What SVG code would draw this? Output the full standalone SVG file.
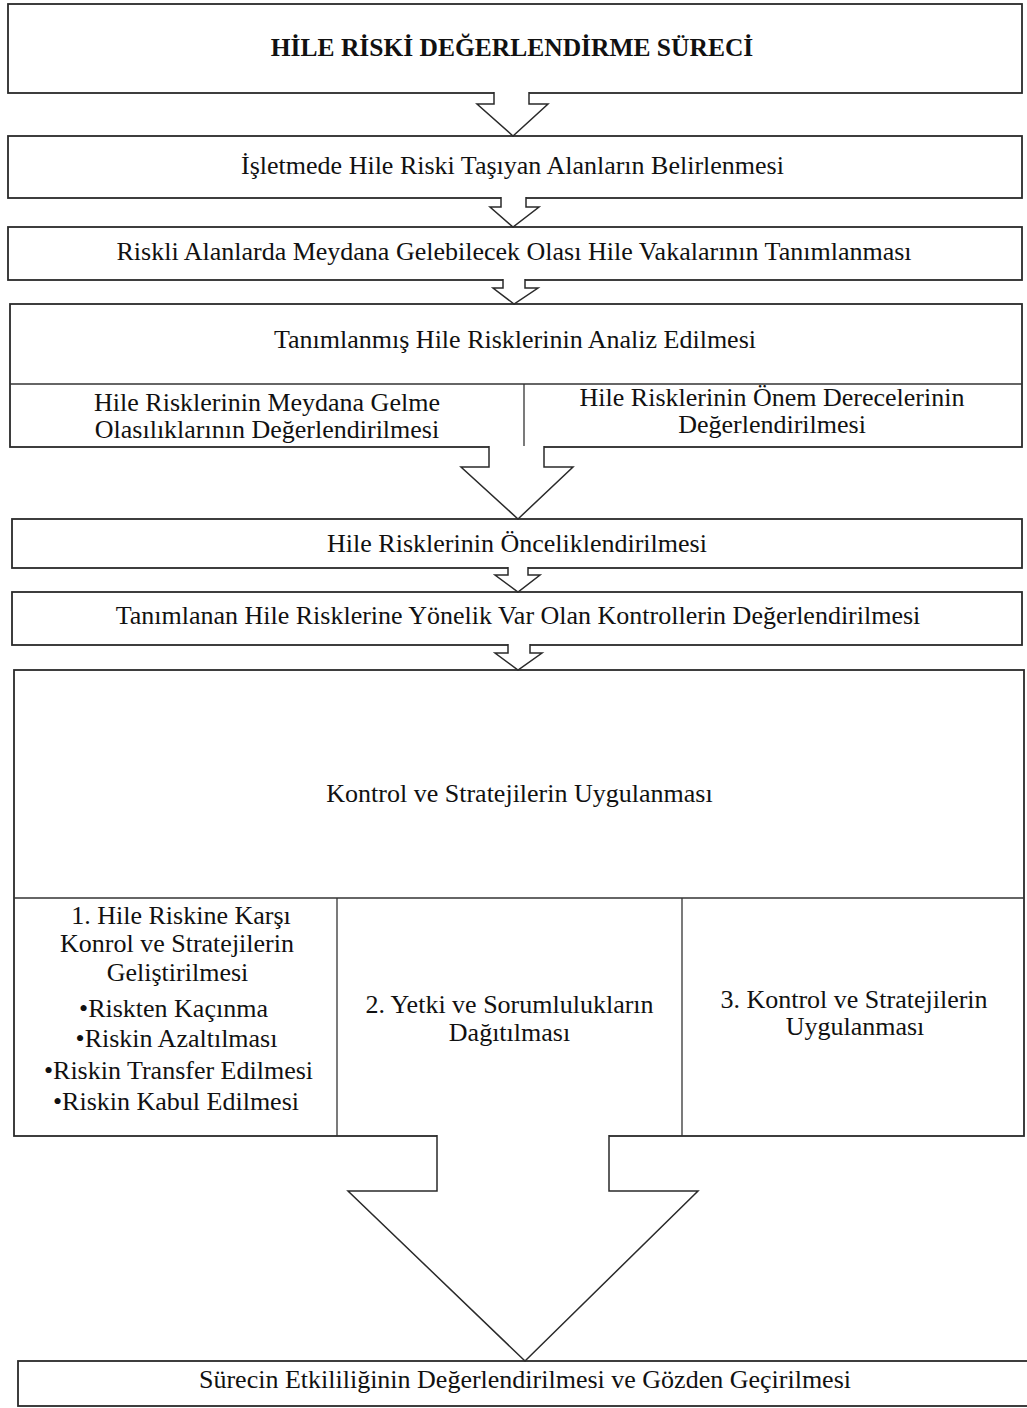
<svg xmlns="http://www.w3.org/2000/svg" width="1027" height="1408" viewBox="0 0 1027 1408">
<style>
.box{fill:#fff;stroke:#2a2a2a;stroke-width:1.8}
.div{fill:none;stroke:#333;stroke-width:1.3}
.arrow{fill:#fff;stroke:#2a2a2a;stroke-width:1.5;stroke-linejoin:miter}
text{font-family:"Liberation Serif","Times New Roman",serif;font-size:26px;fill:#111;text-anchor:middle}
.title{font-weight:bold;font-size:25.5px}
</style>
<rect width="1027" height="1408" fill="#fff"/>
<g id="n1"><rect class="box" x="8" y="4" width="1014" height="89"/><text class="title" x="512" y="56">HİLE RİSKİ DEĞERLENDİRME SÜRECİ</text></g>
<g id="n2"><rect class="box" x="8" y="136" width="1014" height="62"/><text x="512.5" y="174">İşletmede Hile Riski Taşıyan Alanların Belirlenmesi</text></g>
<g id="n3"><rect class="box" x="8" y="227" width="1014" height="53"/><text x="514" y="260">Riskli Alanlarda Meydana Gelebilecek Olası Hile Vakalarının Tanımlanması</text></g>
<g id="n4"><rect class="box" x="10" y="304" width="1012" height="143"/>
<line class="div" x1="10" y1="384" x2="1022" y2="384"/><line class="div" x1="524" y1="384" x2="524" y2="447"/>
<text x="515" y="348">Tanımlanmış Hile Risklerinin Analiz Edilmesi</text>
<text x="267" y="411">Hile Risklerinin Meydana Gelme</text><text x="267" y="438">Olasılıklarının Değerlendirilmesi</text>
<text x="772" y="406">Hile Risklerinin Önem Derecelerinin</text><text x="772" y="433">Değerlendirilmesi</text></g>
<g id="n5"><rect class="box" x="12" y="519" width="1010" height="49"/><text x="517" y="552">Hile Risklerinin Önceliklendirilmesi</text></g>
<g id="n6"><rect class="box" x="12" y="592" width="1010" height="53"/><text x="518" y="624">Tanımlanan Hile Risklerine Yönelik Var Olan Kontrollerin Değerlendirilmesi</text></g>
<g id="n7"><rect class="box" x="14" y="670" width="1010" height="466"/>
<line class="div" x1="14" y1="898" x2="1024" y2="898"/><line class="div" x1="337" y1="898" x2="337" y2="1136"/><line class="div" x1="682" y1="898" x2="682" y2="1136"/>
<text x="519.5" y="802">Kontrol ve Stratejilerin Uygulanması</text>
<text x="181" y="924">1. Hile Riskine Karşı</text>
<text x="177" y="952">Konrol ve Stratejilerin</text>
<text x="177.5" y="981">Geliştirilmesi</text>
<text x="173.5" y="1017">•Riskten Kaçınma</text>
<text x="176.5" y="1047">•Riskin Azaltılması</text>
<text x="178.5" y="1079">•Riskin Transfer Edilmesi</text>
<text x="176" y="1110">•Riskin Kabul Edilmesi</text>
<text x="509.5" y="1013">2. Yetki ve Sorumlulukların</text><text x="509.5" y="1041">Dağıtılması</text>
<text x="854" y="1008">3. Kontrol ve Stratejilerin</text><text x="855" y="1035">Uygulanması</text></g>
<g id="n8"><rect class="box" x="18" y="1361" width="1012" height="45"/><text x="525" y="1388">Sürecin Etkililiğinin Değerlendirilmesi ve Gözden Geçirilmesi</text></g>
<g id="connectors">
<path class="arrow" d="M494,92 V104 H477 L513,136 L548,104 H529 V92"/>
<path class="arrow" d="M501,197 V207 H490 L513,227 L539,207 H526 V197"/>
<path class="arrow" d="M503,279 V288 H493 L514,304 L538,288 H525 V279"/>
<path class="arrow" d="M489,446 V467 H461 L518,519 L573,467 H544 V446"/>
<path class="arrow" d="M508,567 V575 H495 L518,592 L540,575 H528 V567"/>
<path class="arrow" d="M508,644 V653 H495 L518,670 L542,653 H530 V644"/>
<path class="arrow" d="M437,1135 V1191 H348 L525,1361 L698,1191 H609 V1135"/>
</g>
</svg>
